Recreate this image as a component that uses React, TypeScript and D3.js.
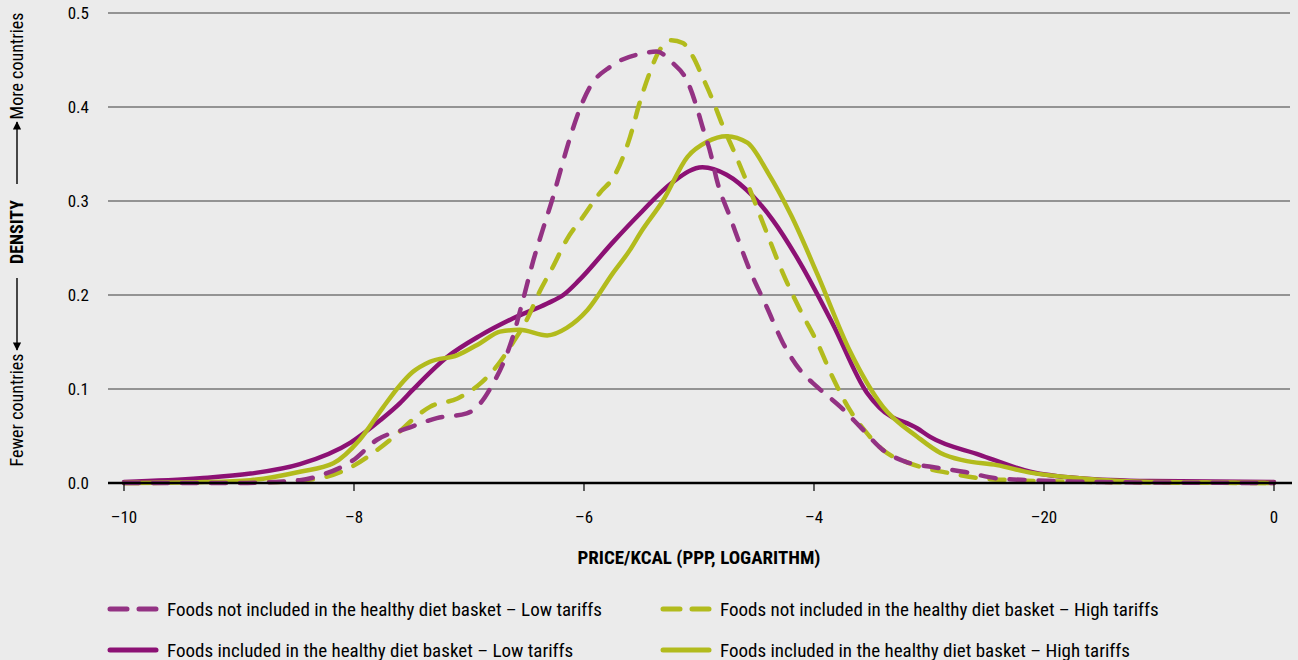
import React from "react";
import * as d3 from "d3";

// Density curves: [log price/kcal, density]
const notIncludedLow: [number, number][] = [
  [-10, 0], [-9, 0.0], [-8.47, 0.003], [-8.27, 0.009], [-8.01, 0.024], [-7.8, 0.046],
  [-7.54, 0.058], [-7.28, 0.069], [-7.02, 0.074], [-6.9, 0.085], [-6.79, 0.106],
  [-6.7, 0.128], [-6.62, 0.155], [-6.53, 0.195], [-6.44, 0.237], [-6.36, 0.269],
  [-6.27, 0.304], [-6.21, 0.33], [-6.12, 0.368], [-6.03, 0.4], [-5.95, 0.421],
  [-5.77, 0.443], [-5.49, 0.457], [-5.37, 0.459], [-5.23, 0.447], [-5.1, 0.427],
  [-5.02, 0.4], [-4.97, 0.379], [-4.9, 0.351], [-4.84, 0.32], [-4.73, 0.283],
  [-4.56, 0.227], [-4.41, 0.187], [-4.27, 0.149], [-4.12, 0.12], [-3.97, 0.102],
  [-3.77, 0.081], [-3.6, 0.06], [-3.4, 0.035], [-3.19, 0.022], [-2.97, 0.017],
  [-2.7, 0.012], [-2.41, 0.005], [-2.12, 0.003], [-1.5, 0.001], [0, 0],
];

const notIncludedHigh: [number, number][] = [
  [-10, 0], [-8.7, 0.001], [-8.3, 0.005], [-8.04, 0.016], [-7.8, 0.035], [-7.6, 0.055],
  [-7.54, 0.062], [-7.34, 0.081], [-7.1, 0.09], [-6.9, 0.106], [-6.76, 0.124],
  [-6.62, 0.149], [-6.5, 0.173], [-6.38, 0.205], [-6.27, 0.23], [-6.15, 0.259],
  [-6.01, 0.283], [-5.86, 0.309], [-5.74, 0.326], [-5.66, 0.347], [-5.6, 0.368],
  [-5.51, 0.407], [-5.43, 0.436], [-5.34, 0.461], [-5.24, 0.471], [-5.14, 0.468],
  [-5.05, 0.453], [-4.97, 0.432], [-4.88, 0.407], [-4.79, 0.379], [-4.7, 0.354],
  [-4.6, 0.325], [-4.41, 0.266], [-4.27, 0.223], [-4.12, 0.184], [-3.97, 0.149],
  [-3.84, 0.113], [-3.69, 0.078], [-3.54, 0.053], [-3.4, 0.035], [-3.19, 0.022],
  [-2.97, 0.014], [-2.84, 0.011], [-2.56, 0.005], [-2.27, 0.003], [-1.5, 0.001], [0, 0],
];

const includedLow: [number, number][] = [
  [-10, 0.001], [-9.34, 0.005], [-8.9, 0.01], [-8.47, 0.02], [-8.03, 0.043],
  [-7.77, 0.067], [-7.6, 0.085], [-7.49, 0.099], [-7.19, 0.134], [-6.9, 0.157],
  [-6.62, 0.175], [-6.32, 0.191], [-6.18, 0.2], [-6.04, 0.216], [-5.75, 0.256],
  [-5.51, 0.287], [-5.23, 0.32], [-4.97, 0.336], [-4.76, 0.328],
  [-4.53, 0.305], [-4.36, 0.28], [-4.12, 0.234], [-3.84, 0.17],
  [-3.54, 0.096], [-3.43, 0.08], [-3.1, 0.058], [-2.99, 0.049], [-2.56, 0.03],
  [-2.12, 0.012], [-1.69, 0.005], [-1.08, 0.002], [0, 0.001],
];

const includedHigh: [number, number][] = [
  [-10, 0], [-9.3, 0.001], [-8.9, 0.003], [-8.47, 0.012], [-8.18, 0.021], [-7.95, 0.046],
  [-7.75, 0.08], [-7.6, 0.104], [-7.49, 0.118], [-7.34, 0.129], [-7.1, 0.136],
  [-6.9, 0.149], [-6.73, 0.161], [-6.56, 0.163], [-6.32, 0.157], [-6.15, 0.165],
  [-5.97, 0.184], [-5.75, 0.223], [-5.6, 0.248], [-5.51, 0.266], [-5.31, 0.301],
  [-5.1, 0.347], [-4.93, 0.363], [-4.76, 0.369], [-4.58, 0.362], [-4.4, 0.33],
  [-4.2, 0.285], [-3.97, 0.222], [-3.69, 0.141], [-3.4, 0.081],
  [-3.1, 0.049], [-2.9, 0.032], [-2.7, 0.024], [-2.41, 0.019], [-2.12, 0.011],
  [-1.69, 0.005], [-1.08, 0.001], [0, 0],
];

const xTickValues = [-10, -8, -6, -4, -2, 0];
const xTickLabels = ["\u201310", "\u20138", "\u20136", "\u20134", "\u201320", "0"];
const yTickValues = [0, 0.1, 0.2, 0.3, 0.4, 0.5];

const seriesNames = [
  "Foods not included in the healthy diet basket \u2013 Low tariffs",
  "Foods not included in the healthy diet basket \u2013 High tariffs",
  "Foods included in the healthy diet basket \u2013 Low tariffs",
  "Foods included in the healthy diet basket \u2013 High tariffs",
];

const PURPLE = "#8c1174";
const PURPLE_DASH = "#933283";
const GREEN = "#b2bb1d";
const FONT = "'Liberation Sans Narrow', 'Roboto Condensed', 'DejaVu Sans Condensed', 'Liberation Sans', sans-serif";

export default function App() {
  const W = 1298;
  const H = 660;
  const x = d3.scaleLinear().domain([-10, 0]).range([124, 1274]);
  const y = d3.scaleLinear().domain([0, 0.5]).range([483, 13]);
  const line = d3
    .line<[number, number]>()
    .x((d) => x(d[0]))
    .y((d) => y(d[1]))
    .curve(d3.curveMonotoneX);

  const series = [
    { data: includedLow, color: PURPLE, dash: false },
    { data: includedHigh, color: GREEN, dash: false },
    { data: notIncludedHigh, color: GREEN, dash: true },
    { data: notIncludedLow, color: PURPLE_DASH, dash: true },
  ];

  const legend = [
    { name: seriesNames[0], color: PURPLE_DASH, dash: true, lx: 110, ly: 609 },
    { name: seriesNames[1], color: GREEN, dash: true, lx: 663, ly: 609 },
    { name: seriesNames[2], color: PURPLE, dash: false, lx: 110, ly: 650 },
    { name: seriesNames[3], color: GREEN, dash: false, lx: 663, ly: 650 },
  ];

  return (
    <svg
      width={W}
      height={H}
      style={{ position: "absolute", left: 0, top: 0, fontFamily: FONT }}
    >
      <defs>
        <marker id="arr" viewBox="0 0 10 10" refX="9" refY="5" markerWidth="6" markerHeight="6" orient="auto">
          <path d="M0,0 L10,5 L0,10 z" fill="#000" />
        </marker>
      </defs>
      <rect x={0} y={0} width={W} height={H} fill="#ebebeb" />

      {/* grid */}
      {yTickValues.slice(1).map((v) => (
        <line key={v} x1={108} x2={1290} y1={y(v)} y2={y(v)} stroke="#3c3c3c" strokeWidth={1.2} />
      ))}
      {yTickValues.map((v) => (
        <text key={"yl" + v} x={89} y={y(v) + 6} textAnchor="end" fontSize={17} fill="#000">
          {v.toFixed(1)}
        </text>
      ))}

      {/* curves */}
      {series.map((s, i) => (
        <path
          key={i}
          d={line(s.data) || ""}
          fill="none"
          stroke={s.color}
          strokeWidth={4.5}
          strokeLinecap="round"
          strokeLinejoin="round"
          strokeDasharray={s.dash ? "15 14" : undefined}
        />
      ))}

      {/* x axis */}
      <line x1={108} x2={1292} y1={y(0)} y2={y(0)} stroke="#000" strokeWidth={2.5} />
      {xTickValues.map((v, i) => (
        <g key={"xt" + v}>
          <line x1={x(v)} x2={x(v)} y1={y(0)} y2={y(0) + 8} stroke="#000" strokeWidth={1.2} />
          <text x={x(v)} y={523} textAnchor="middle" fontSize={17} fill="#000">
            {xTickLabels[i]}
          </text>
        </g>
      ))}
      <text x={699} y={564} textAnchor="middle" fontSize={19} fontWeight="bold" fill="#000">
        PRICE/KCAL (PPP, LOGARITHM)
      </text>

      {/* y axis label */}
      <g transform="translate(23,240) rotate(-90)">
        <text x={-170} y={0} textAnchor="middle" fontSize={18} fill="#000">
          Fewer countries
        </text>
        <line x1={-38} x2={-110} y1={-6} y2={-6} stroke="#000" strokeWidth={1.4} markerEnd="url(#arr)" />
        <text x={8} y={0} textAnchor="middle" fontSize={18} fontWeight="bold" fill="#000">
          DENSITY
        </text>
        <line x1={56} x2={118} y1={-6} y2={-6} stroke="#000" strokeWidth={1.4} markerEnd="url(#arr)" />
        <text x={174} y={0} textAnchor="middle" fontSize={18} fill="#000">
          More countries
        </text>
      </g>

      {/* legend */}
      {legend.map((l, i) => (
        <g key={"lg" + i}>
          <line
            x1={l.lx}
            x2={l.lx + 46}
            y1={l.ly}
            y2={l.ly}
            stroke={l.color}
            strokeWidth={5}
            strokeLinecap="round"
            strokeDasharray={l.dash ? "17 12" : undefined}
          />
          <text x={l.lx + 57} y={l.ly + 6.5} fontSize={19} fill="#000">
            {l.name}
          </text>
        </g>
      ))}
    </svg>
  );
}
